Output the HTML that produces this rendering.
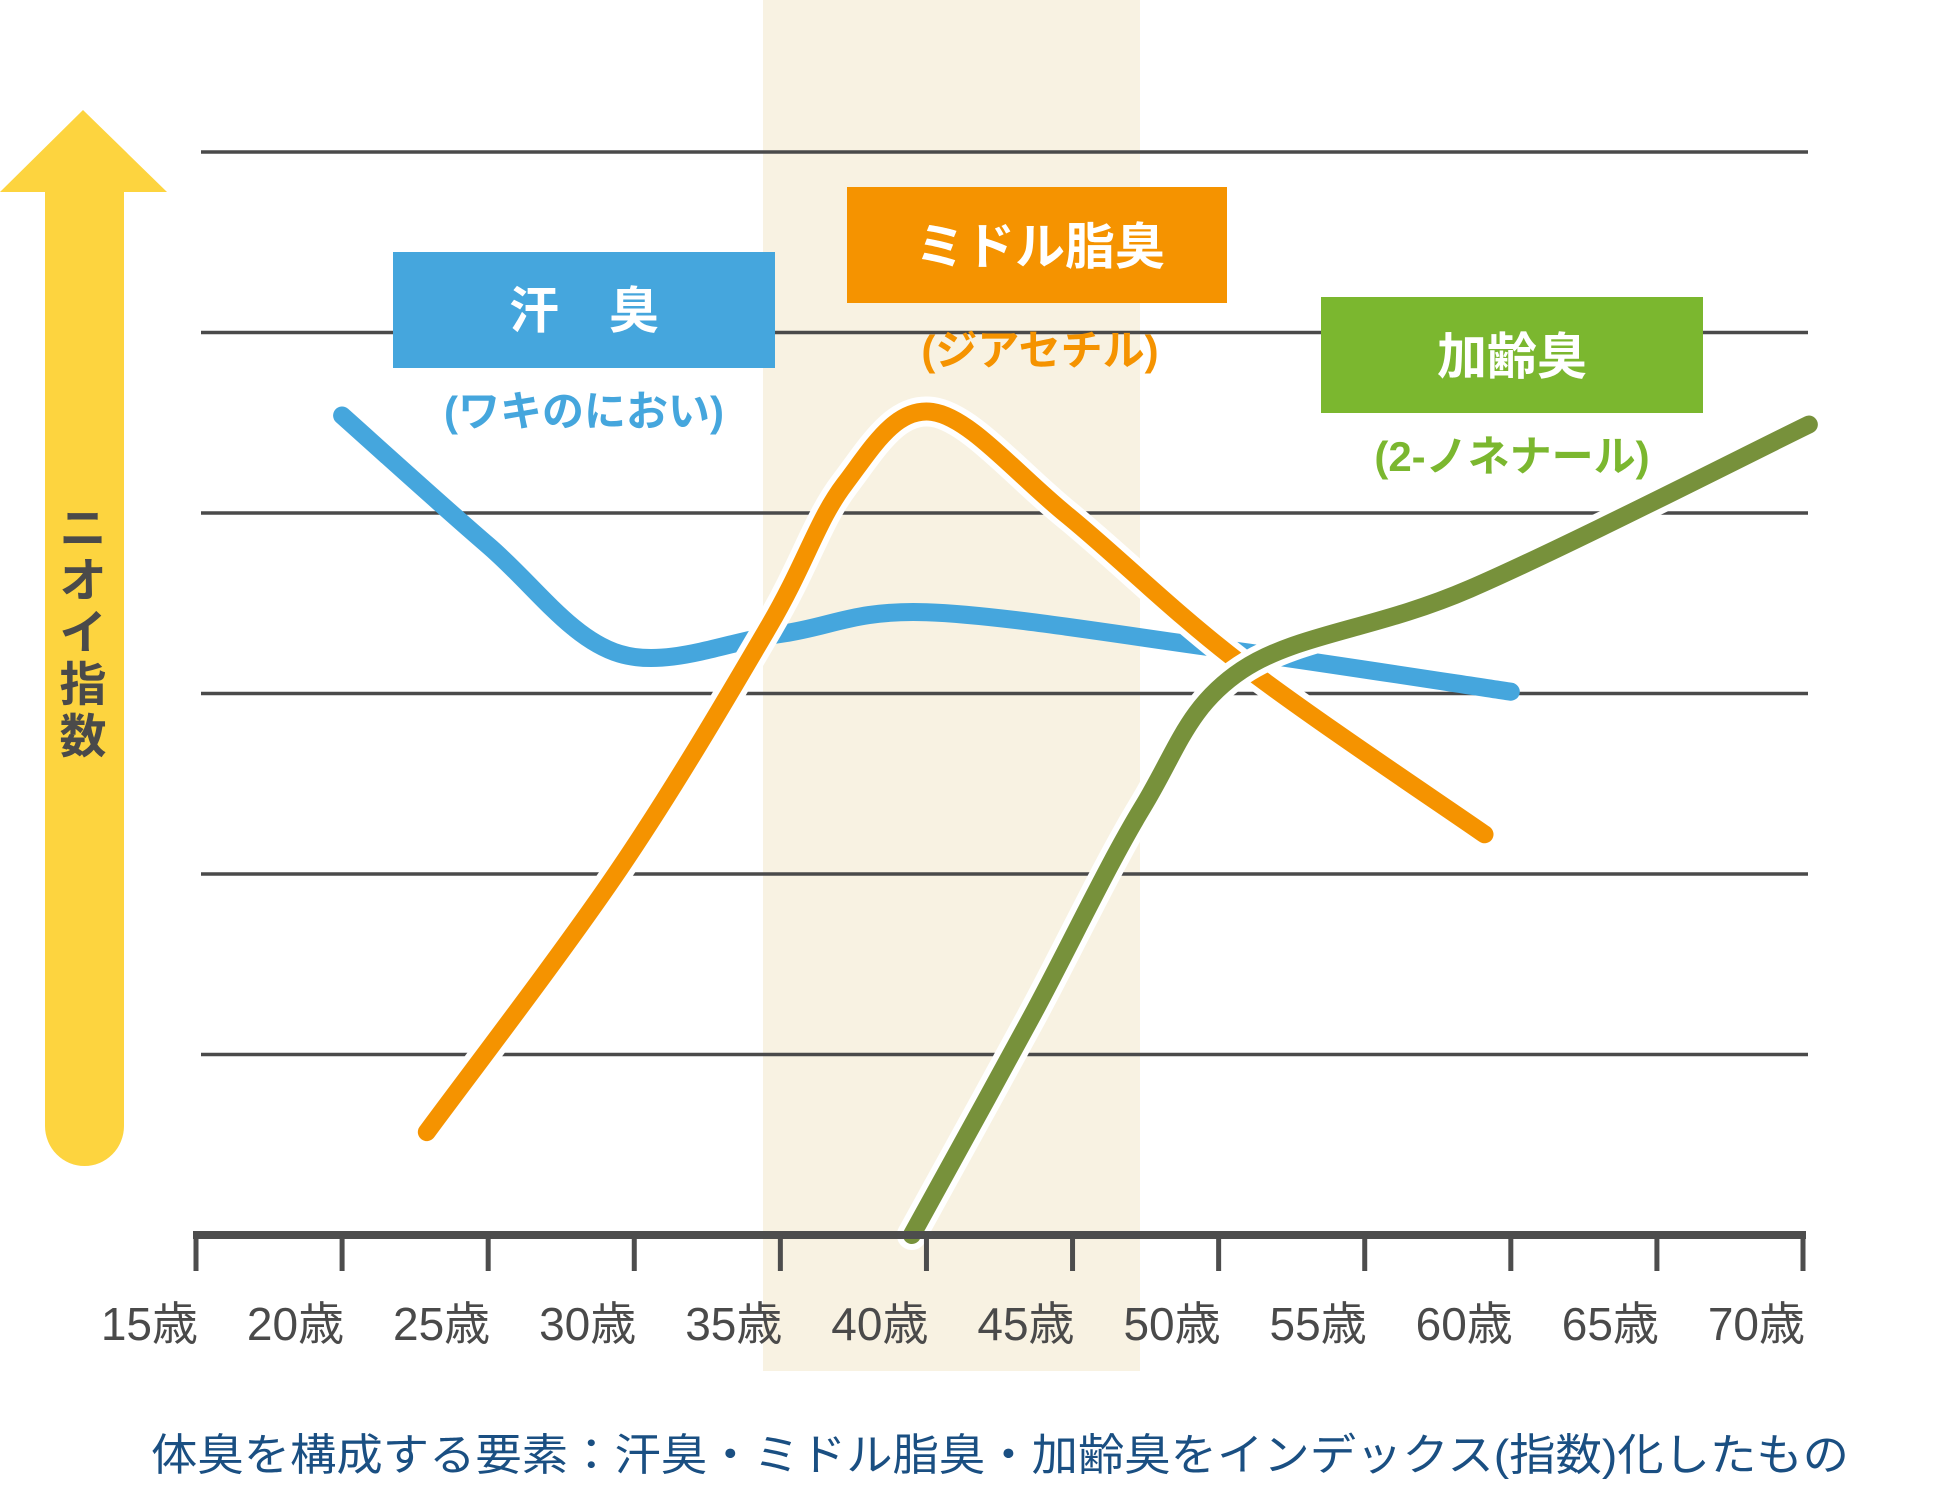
<!DOCTYPE html>
<html><head><meta charset="utf-8"><style>
html,body{margin:0;padding:0;background:#fff}
svg{display:block}
text{font-family:"Liberation Sans","Noto Sans CJK JP",sans-serif}
</style></head><body>
<svg id="chart" width="1936" height="1488" viewBox="0 0 1936 1488" xmlns="http://www.w3.org/2000/svg">
<rect x="763" y="0" width="377" height="1371" fill="#f8f2e2"/>
<g id="grid"></g>
<g id="series"></g>
<g id="xaxis"></g>
<g>
<polygon points="83,110 167,192 0,192" fill="#fdd43f"/>
<path d="M45,190 L124,190 L124,1126 A39.5,40 0 0 1 45,1126 Z" fill="#fdd43f"/>
</g>
<g font-size="47" font-weight="bold" fill="#4a4a4a" text-anchor="middle">
<text x="83" y="545">ニ</text><text x="83" y="597">オ</text><text x="83" y="649">イ</text><text x="83" y="701">指</text><text x="83" y="753">数</text>
</g>
<g>
<rect x="393" y="252" width="382" height="116" fill="#45a6dd"/>
<text x="584" y="328" font-size="50" font-weight="bold" fill="#fff" text-anchor="middle">汗　臭</text>
<text x="584" y="426" font-size="42" font-weight="bold" fill="#45a6dd" text-anchor="middle">(ワキのにおい)</text>
</g>
<g>
<rect x="847" y="187" width="380" height="116" fill="#f59300"/>
<text x="1040" y="264" font-size="50" font-weight="bold" fill="#fff" text-anchor="middle">ミドル脂臭</text>
<text x="1040" y="365" font-size="42" font-weight="bold" fill="#f59300" text-anchor="middle">(ジアセチル)</text>
</g>
<g>
<rect x="1321" y="297" width="382" height="116" fill="#7bb72f"/>
<text x="1512" y="374" font-size="50" font-weight="bold" fill="#fff" text-anchor="middle">加齢臭</text>
<text x="1512" y="471" font-size="42" font-weight="bold" fill="#7bb72f" text-anchor="middle">(2-ノネナール)</text>
</g>
<text x="151" y="1470" font-size="44" fill="#1a4f82" textLength="1698" lengthAdjust="spacingAndGlyphs">体臭を構成する要素：汗臭・ミドル脂臭・加齢臭をインデックス(指数)化したもの</text>
</svg>
<script>
const tickLabels = ["15歳","20歳","25歳","30歳","35歳","40歳","45歳","50歳","55歳","60歳","65歳","70歳"];
const tickAges = [15,20,25,30,35,40,45,50,55,60,65,70];
const gridValues = [1,2,3,4,5,6];
const sweatAges = [20,25,29.5,35,40,50,60];
const sweatValues = [4.54,3.82,3.22,3.33,3.45,3.25,3.01];
const middleAges = [22.9,29.5,34.6,37.2,40.2,44.8,50.8,59.1];
const middleValues = [0.57,2.03,3.37,4.16,4.56,3.99,3.16,2.22];
const agingAges = [39.5,43.6,47.4,50.8,58.6,70.2];
const agingValues = [0,1.21,2.37,3.13,3.58,4.49];

const NS = "http://www.w3.org/2000/svg";
function xs(a){ return 196 + (a-15)*(1803-196)/55; }
function ys(v){ return 1235 - v*180.5; }
function mk(tag, attrs, parent){ const e=document.createElementNS(NS,tag); for(const k in attrs) e.setAttribute(k,attrs[k]); parent.appendChild(e); return e; }

const grid=document.getElementById('grid');
gridValues.forEach(v=>{
  const l=mk('line',{x1:201,x2:1808,y1:ys(v),y2:ys(v),stroke:'#4a4a4a','stroke-width':3.5},grid);
  
  
});

const xa=document.getElementById('xaxis');
const axisLine=mk('line',{x1:193,x2:1806,y1:1235,y2:1235,stroke:'#4d4d4d','stroke-width':8},xa);


tickAges.forEach((a,i)=>{
  const t=mk('line',{x1:xs(a),x2:xs(a),y1:1235,y2:1271,stroke:'#4d4d4d','stroke-width':5},xa);
  
  
  const tx=mk('text',{x:xs(a)+2,y:1340,'font-size':46,fill:'#4a4a4a','text-anchor':'end'},xa);
  
  
  tx.textContent=tickLabels[i];
});

function pathFrom(ages, vals){
  const p=ages.map((a,i)=>[xs(a),ys(vals[i])]);
  let d='M'+p[0][0]+','+p[0][1];
  for(let i=0;i<p.length-1;i++){
    const p0=p[Math.max(0,i-1)],p1=p[i],p2=p[i+1],p3=p[Math.min(p.length-1,i+2)];
    const c1=[p1[0]+(p2[0]-p0[0])/6,p1[1]+(p2[1]-p0[1])/6];
    const c2=[p2[0]-(p3[0]-p1[0])/6,p2[1]-(p3[1]-p1[1])/6];
    d+=' C'+c1[0]+','+c1[1]+' '+c2[0]+','+c2[1]+' '+p2[0]+','+p2[1];
  }
  return d;
}
const sg=document.getElementById('series');
function drawSeries(ages,vals,color,outline,name){
  const d=pathFrom(ages,vals);
  if(outline){
    const o=mk('path',{d:d,fill:'none',stroke:'#fff','stroke-width':30,'stroke-linecap':'round','stroke-linejoin':'round'},sg);
    
    
  }
  const l=mk('path',{d:d,fill:'none',stroke:color,'stroke-width':18,'stroke-linecap':'round','stroke-linejoin':'round'},sg);
  
  
}
drawSeries(sweatAges,sweatValues,'#45a6dd',false,'sweat-odor-line');
drawSeries(middleAges,middleValues,'#f59300',true,'middle-fat-odor-line');
drawSeries(agingAges,agingValues,'#77913b',true,'aging-odor-line');
// clip green at axis: cover below axis with band-aware rect not needed (starts at 0)
</script>
</body></html>
